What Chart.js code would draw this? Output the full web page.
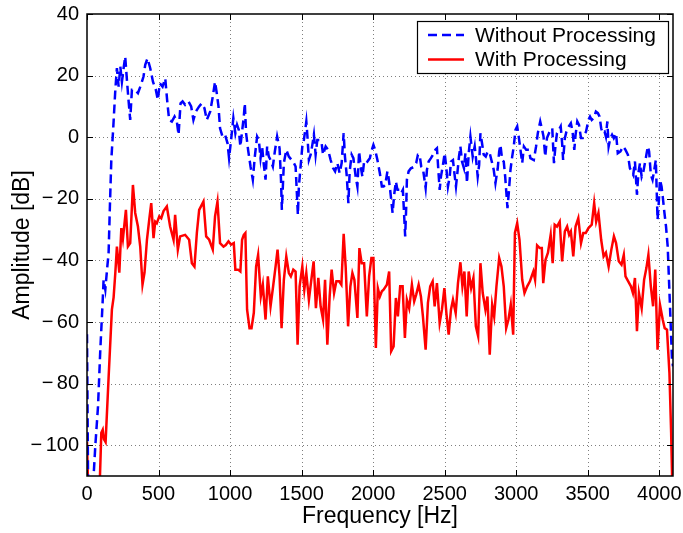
<!DOCTYPE html>
<html>
<head>
<meta charset="utf-8">
<script src="https://cdn.jsdelivr.net/npm/chart.js@4/dist/chart.umd.min.js"></script>
<style>
  body { margin: 0; background: #fff; }
</style>
</head>
<body>
<canvas id="spectrum" width="683" height="533"></canvas>
<script>
// axis ticks
const xTicks = [0, 500, 1000, 1500, 2000, 2500, 3000, 3500, 4000];
const yTicks = [-100, -80, -60, -40, -20, 0, 20, 40];

// "Without Processing" (blue dashed)
const woFreq = [0,8,40,58,77,93,109,116,128,140,151,160,170,184,198,209,221,233,244,256,267,279,291,302,314,333,356,377,395,407,423,442,461,481,495,509,528,547,560,574,593,612,628,640,654,668,686,709,728,744,761,784,802,821,837,861,877,895,907,919,930,947,965,982,993,1007,1023,1037,1049,1061,1072,1084,1096,1103,1112,1126,1143,1159,1173,1189,1201,1213,1224,1236,1248,1259,1271,1283,1299,1313,1329,1346,1356,1362,1376,1393,1411,1430,1446,1458,1468,1474,1481,1493,1505,1516,1533,1540,1551,1563,1575,1586,1598,1610,1626,1640,1650,1668,1685,1703,1720,1734,1750,1766,1780,1794,1803,1815,1827,1836,1850,1862,1878,1890,1902,1913,1925,1937,1949,1960,1977,1991,2002,2014,2030,2047,2061,2073,2084,2100,2107,2119,2136,2147,2159,2170,2185,2196,2208,2224,2231,2236,2248,2264,2283,2301,2313,2325,2336,2348,2367,2376,2388,2404,2418,2435,2446,2458,2465,2474,2488,2500,2512,2523,2535,2544,2558,2568,2579,2591,2600,2610,2621,2635,2645,2656,2668,2680,2696,2710,2721,2731,2741,2750,2761,2773,2787,2801,2815,2832,2843,2855,2871,2881,2890,2902,2913,2923,2939,2948,2960,2972,2983,2995,3007,3019,3030,3042,3054,3070,3089,3099,3123,3139,3151,3168,3179,3191,3203,3215,3229,3241,3252,3264,3274,3285,3299,3311,3321,3328,3340,3351,3368,3382,3394,3406,3415,3427,3439,3453,3465,3476,3488,3505,3516,3528,3542,3557,3571,3583,3594,3604,3618,3627,3637,3646,3658,3670,3682,3698,3710,3729,3748,3764,3781,3795,3807,3818,3830,3844,3854,3865,3877,3889,3906,3920,3929,3941,3953,3965,3976,3988,3995,4005,4016,4024,4035,4047,4059,4066,4075,4082,4089,4096];
const woDb = [-64,-115,-115,-100.3,-87.4,-69,-53.8,-46.3,-49.5,-43,-37.6,-22.5,-7.4,3.5,15.4,22.4,16.4,22.9,18,22.4,26.2,18.6,11.6,5.6,15.4,15.4,14.3,17,19.7,23.5,25.6,22.4,18,15.4,12.1,17.5,16.4,19.1,12.1,5.6,5.1,6.7,5.1,0.8,11,11.6,10.5,11.6,10,5.6,8.3,10,11,9.4,5.6,8.3,12.6,18,14.3,10,2.9,0.2,0.8,-1.9,-6.8,-0.9,6.2,1.3,4,2.4,-3,1.8,6.7,11,1.3,-4.1,-9.5,-13.8,-6.3,0.2,-0.9,-6.8,-3,-9,-13.8,-3,-6.3,-7.4,-9.5,-4.6,0.2,-3.6,-13.8,-23.6,-8.4,-4.1,-6.3,-7.4,-8.4,-9.5,-19.2,-25.2,-16,-9.5,-3,-0.9,5.1,0.8,-7.4,-5.7,-2.5,0.8,-5.7,-0.9,-0.9,-1.9,-5.7,-3,-4.1,-7.4,-10,-11.1,-8.4,-11.7,-8.4,1.3,-6.3,-12.2,-21.4,-11.1,-5.7,-6.8,-12.8,-16,-4.6,-9.5,-12.8,-7.9,-7.4,-7.9,-6.8,-4.1,-2.5,-4.1,-7.4,-11.7,-16,-16,-15.5,-11.1,-12.8,-17.1,-24.6,-18.7,-14.4,-17.1,-17.1,-18.2,-17.1,-32.2,-23,-13.8,-11.1,-10.1,-9.7,-8.4,-5.7,-5.7,-9.5,-10.1,-16.5,-10.6,-7.9,-6.8,-5.7,-4.1,-3.6,-12.2,-17.1,-12.8,-9,-5.2,-10.1,-16,-12.8,-7.9,-7.4,-11.7,-16,-10.6,-6.3,-3,-7.9,-10.1,-5.2,-14.9,-5.2,0.2,-6.3,-3,-7.9,-12.8,-9,1.3,-1.9,-5.7,-6.3,-4.6,-5.2,-8.4,-10.6,-14.9,-10.1,-4.6,-2.5,-7.4,-7.9,-12.8,-23,-18.2,-10.6,-6.3,-3,2.4,3.5,-0.3,-4.1,-8.4,-3,-4.1,-4.1,-6.8,-7.4,-3,1.3,5.1,2.9,0.2,-6.3,-0.3,1.3,2.4,2.9,-8.4,-3,1.3,2.4,3.5,-1.9,-7.4,-0.3,1.8,3.5,4.5,1.8,-4.1,0.8,5.1,4,-0.3,-0.3,0.8,1.8,5.6,6.7,5.6,6.2,8.3,7.8,6.7,2.9,1.3,1.8,0.2,5.1,-3,-0.3,0.8,-0.3,1.3,-5.2,-4.6,-3,-4.1,-5.7,-10.1,-11.1,-12.2,-7.9,-18.7,-11.7,-8.4,-12.8,-11.1,-6.8,-3,-4.6,-12.2,-13.8,-10.6,-7.4,-26.8,-22.5,-13.8,-16,-19.2,-24.1,-28.9,-35.5,-44.1,-54.9,-63.5,-72.2,-74.4];

// "With Processing" (red solid)
const wFreq = [0,8,88,100,110,118,130,151,174,186,198,209,226,240,251,272,286,302,321,337,356,372,388,402,419,435,449,465,477,488,505,519,535,558,581,605,616,635,651,686,714,733,751,768,784,814,833,854,879,895,912,930,954,970,989,1007,1026,1037,1056,1072,1084,1096,1107,1119,1136,1150,1166,1182,1196,1215,1229,1248,1264,1283,1301,1318,1332,1346,1360,1376,1393,1411,1425,1442,1458,1472,1486,1505,1519,1533,1551,1568,1584,1600,1617,1633,1650,1664,1680,1696,1710,1727,1743,1762,1778,1794,1808,1825,1841,1855,1869,1890,1904,1920,1937,1956,1972,1988,2002,2019,2033,2047,2061,2073,2096,2112,2126,2143,2159,2173,2189,2206,2222,2236,2252,2271,2287,2301,2318,2334,2348,2367,2383,2399,2416,2430,2446,2465,2481,2498,2512,2528,2544,2558,2577,2593,2610,2624,2638,2654,2668,2685,2701,2718,2734,2750,2766,2785,2799,2815,2832,2846,2862,2881,2897,2913,2930,2946,2962,2979,2991,3007,3023,3042,3058,3077,3096,3104,3120,3132,3146,3165,3179,3189,3205,3222,3241,3255,3269,3285,3304,3321,3340,3356,3370,3382,3399,3415,3434,3453,3469,3486,3505,3528,3545,3559,3575,3594,3611,3627,3646,3665,3683,3698,3717,3736,3752,3764,3783,3802,3816,3830,3844,3858,3877,3894,3910,3924,3941,3957,3972,3988,4005,4024,4038,4054,4071,4083,4092];
const wDb = [-99,-114,-114,-96,-95,-98,-99,-78,-56,-52,-44,-35.5,-44,-29.5,-33,-23.6,-35.5,-34.4,-15.5,-24.6,-29,-35.5,-47.9,-44,-33.3,-26.8,-21.4,-32.8,-27.4,-27.9,-25.7,-26.3,-24,-22.5,-29,-33.3,-25.2,-36.5,-32.2,-31.7,-33.3,-40.9,-42,-31,-23.6,-20.9,-32.2,-33.3,-36.5,-25.7,-20.9,-34.4,-35.5,-35,-33.8,-34.9,-34.4,-43,-43,-43.6,-33.3,-31.7,-31.1,-56,-62,-62,-57,-42,-38.2,-51.7,-47.9,-59.2,-45.2,-54.9,-48.4,-42,-36.5,-45.2,-62,-46.3,-38.7,-44.1,-45.2,-43,-43.6,-67.4,-48.4,-42,-49.5,-44.1,-52.8,-46.3,-40.3,-55.5,-45.7,-54.9,-59.2,-46.3,-67.4,-51.7,-43,-50.6,-46.8,-46.8,-47.9,-31.4,-42,-61.4,-48.4,-44.1,-46.3,-58.7,-36,-40.9,-40.9,-58.2,-45.2,-39.2,-39.2,-68.4,-49,-51.7,-50,-49.5,-47.9,-43.6,-69.5,-67.9,-52.2,-58.2,-48.4,-48.4,-65.2,-52.8,-55.5,-47.9,-53.3,-51.1,-47.9,-51.7,-58.2,-69,-53.8,-48.4,-46.8,-54.9,-47.4,-60.3,-56,-49,-57.1,-64.1,-56,-52.8,-57.1,-47.4,-40.6,-48.4,-43.6,-58.2,-43.6,-49,-45.7,-61.4,-64.6,-40.9,-50.6,-56,-51.7,-70.6,-54.4,-58.2,-48.4,-39.2,-42,-48.4,-62,-59.2,-54.4,-64.1,-31.1,-27.9,-33.3,-46.3,-50.6,-48.4,-46.8,-45.7,-43.6,-46.3,-35.1,-36,-36,-47.4,-39.8,-37.5,-31.7,-40.9,-28.4,-29,-27.4,-40.3,-30.6,-29,-31.7,-30.6,-38.7,-29,-26.3,-34.4,-31.1,-31.1,-29.5,-28.4,-21.4,-27.4,-24.6,-33.3,-38.7,-37.5,-42,-36.5,-32.2,-34.4,-40.3,-41.4,-38.2,-45.2,-46.8,-48.4,-50.6,-45.7,-63,-50.6,-55.5,-46.3,-42.5,-38.2,-48.4,-54.9,-43,-69,-54.4,-59.2,-62,-62.5,-76.5,-96,-115];

const FONT = '"Liberation Sans", Arial, Helvetica, sans-serif';

function toPoints(fs, vs) {
  return fs.map((f, i) => ({ x: f, y: vs[i] }));
}

// grid, inner ticks, box and legend like a matlab figure
const matlabFrame = {
  id: 'matlabFrame',
  beforeDatasetsDraw(chart) {
    const { ctx, chartArea: a, scales: { x, y } } = chart;
    ctx.save();
    ctx.strokeStyle = 'rgba(0,0,0,0.5)';
    ctx.lineWidth = 1;
    ctx.setLineDash([1, 3]);
    xTicks.forEach(v => {
      const px = Math.round(x.getPixelForValue(v)) + 0.5;
      if (px <= a.left + 1 || px >= a.right - 1) return;
      ctx.beginPath(); ctx.moveTo(px, a.top); ctx.lineTo(px, a.bottom); ctx.stroke();
    });
    yTicks.forEach(v => {
      const py = Math.round(y.getPixelForValue(v)) + 0.5;
      if (py <= a.top + 1 || py >= a.bottom - 1) return;
      ctx.beginPath(); ctx.moveTo(a.left, py); ctx.lineTo(a.right, py); ctx.stroke();
    });
    ctx.restore();
  },
  afterDatasetsDraw(chart) {
    const { ctx, chartArea: a, scales: { x, y } } = chart;
    const ds = chart.data.datasets;
    ctx.save();
    ctx.strokeStyle = '#000';
    ctx.setLineDash([]);
    // inner tick marks
    ctx.lineWidth = 1;
    const tl = 6;
    xTicks.forEach(v => {
      const px = Math.round(x.getPixelForValue(v)) + 0.5;
      ctx.beginPath();
      ctx.moveTo(px, a.bottom); ctx.lineTo(px, a.bottom - tl);
      ctx.moveTo(px, a.top); ctx.lineTo(px, a.top + tl);
      ctx.stroke();
    });
    yTicks.forEach(v => {
      const py = Math.round(y.getPixelForValue(v)) + 0.5;
      ctx.beginPath();
      ctx.moveTo(a.left, py); ctx.lineTo(a.left + tl, py);
      ctx.moveTo(a.right, py); ctx.lineTo(a.right - tl, py);
      ctx.stroke();
    });
    // box
    ctx.lineWidth = 1.5;
    ctx.strokeRect(a.left, a.top, a.right - a.left, a.bottom - a.top);

    // legend
    const lw = 251, lh = 52;
    const lx = a.right - 5 - lw, ly = a.top + 7;
    ctx.fillStyle = '#fff';
    ctx.fillRect(lx, ly, lw, lh);
    ctx.lineWidth = 1.2;
    ctx.strokeRect(lx + 0.5, ly + 0.5, lw, lh);
    ctx.font = '21px ' + FONT;
    ctx.textBaseline = 'middle';
    ctx.textAlign = 'left';
    ds.forEach((d, i) => {
      const cy = ly + 14 + i * 24.5;
      ctx.strokeStyle = d.borderColor;
      ctx.lineWidth = d.borderWidth;
      ctx.setLineDash(d.borderDash || []);
      ctx.beginPath(); ctx.moveTo(lx + 11, cy); ctx.lineTo(lx + 47, cy); ctx.stroke();
      ctx.setLineDash([]);
      ctx.fillStyle = '#000';
      ctx.fillText(d.label, lx + 58, cy + 1);
    });
    ctx.restore();
  }
};

new Chart(document.getElementById('spectrum'), {
  type: 'line',
  data: {
    datasets: [
      {
        label: 'Without Processing',
        data: toPoints(woFreq, woDb),
        borderColor: '#0000ff',
        borderWidth: 2.5,
        borderDash: [9, 5],
        pointRadius: 0,
        tension: 0,
      },
      {
        label: 'With Processing',
        data: toPoints(wFreq, wDb),
        borderColor: '#ff0000',
        borderWidth: 2.5,
        pointRadius: 0,
        tension: 0,
      },
    ],
  },
  options: {
    responsive: false,
    animation: false,
    devicePixelRatio: 1,
    layout: { padding: { top: 14, right: 10, left: 0, bottom: 0 } },
    plugins: { legend: { display: false }, tooltip: { enabled: false } },
    scales: {
      x: {
        type: 'linear',
        min: 0,
        max: 4096,
        afterBuildTicks: s => { s.ticks = xTicks.map(v => ({ value: v })); },
        afterFit: s => { s.height = 57; s.paddingLeft = 0; s.paddingRight = 0; },
        grid: { display: false, drawTicks: false },
        border: { display: false },
        ticks: {
          color: '#000', padding: 6, maxRotation: 0, font: { family: FONT, size: 20 },
          callback: v => String(v),
        },
        title: {
          display: true, text: 'Frequency [Hz]', color: '#000',
          font: { family: FONT, size: 23 }, padding: { top: 0, bottom: 3 },
        },
      },
      y: {
        min: -110,
        max: 40,
        afterBuildTicks: s => { s.ticks = yTicks.map(v => ({ value: v })); },
        afterFit: s => { s.width = 87; s.paddingTop = 0; s.paddingBottom = 0; },
        grid: { display: false, drawTicks: false },
        border: { display: false },
        ticks: {
          color: '#000', padding: 8, font: { family: FONT, size: 20 },
          callback: v => (v < 0 ? '\u2212\u2006' + Math.abs(v) : String(v)),
        },
        title: {
          display: true, text: 'Amplitude [dB]', color: '#000',
          font: { family: FONT, size: 23 }, padding: { top: 9, bottom: 0 },
        },
      },
    },
  },
  plugins: [matlabFrame],
});
</script>
</body>
</html>
